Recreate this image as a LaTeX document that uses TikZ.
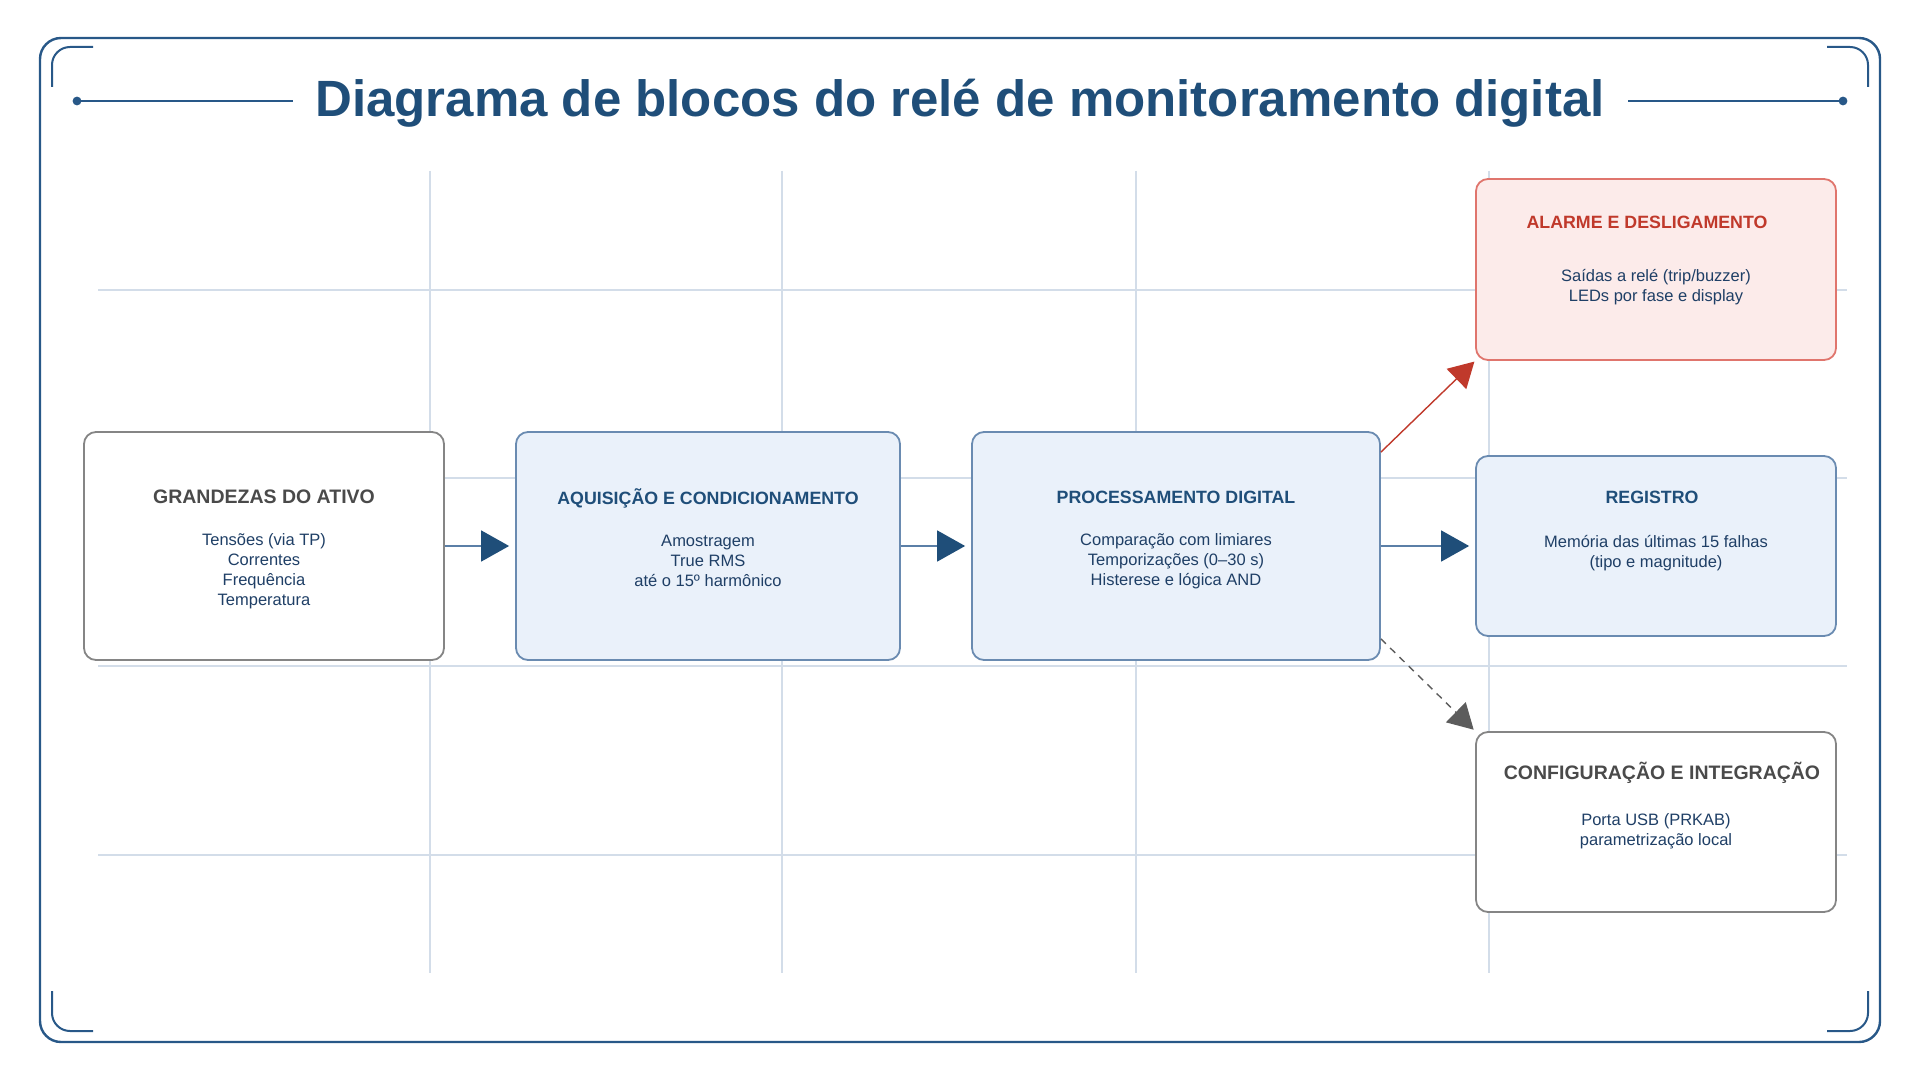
\documentclass[tikz,border=0pt]{standalone}
\usepackage{fontspec}
\setmainfont{Liberation Sans}
\usepackage{tikz}
\usetikzlibrary{arrows.meta}
\usetikzlibrary{positioning}

\definecolor{frameblue}{HTML}{285888}
\definecolor{titleblue}{HTML}{1F4E79}
\definecolor{gridline}{HTML}{D3DDE9}
\definecolor{bodyblue}{HTML}{1F3F66}
\definecolor{boxfill}{HTML}{EAF1FA}
\definecolor{boxedge}{HTML}{6A8BB1}
\definecolor{alarmfill}{HTML}{FCEBEA}
\definecolor{alarmedge}{HTML}{E0756D}
\definecolor{alarmred}{HTML}{C0392B}
\definecolor{plainedge}{HTML}{858585}
\definecolor{headgray}{HTML}{4A4A4A}
\definecolor{linkblue}{HTML}{5B7FA7}

\tikzset{
  plainblock/.style={draw=plainedge, fill=white, rounded corners=6pt, line width=0.9pt},
  blueblock/.style={draw=boxedge, fill=boxfill, rounded corners=6pt, line width=0.9pt},
  redblock/.style={draw=alarmedge, fill=alarmfill, rounded corners=6pt, line width=0.9pt},
  heading/.style={font=\fontsize{9.75pt}{12pt}\selectfont\bfseries, align=center},
  smallheading/.style={font=\fontsize{8.9pt}{11pt}\selectfont\bfseries, align=center},
  bodytext/.style={font=\fontsize{8.25pt}{10pt}\selectfont, text=bodyblue, align=center},
  linkarrow/.style={draw=linkblue, line width=0.8pt, shorten >=3pt,
    -{Triangle[length=14pt,width=15.5pt,color=titleblue]}},
  corner/.style={draw=frameblue, line width=1pt, rounded corners=9pt}
}

\begin{document}
\begin{tikzpicture}[x=0.5pt,y=-0.5pt]
    \fill[white] (0,0) rectangle (1920,1080);
    \useasboundingbox (0,0) rectangle (1920,1080);

    % frame
    \draw[frameblue, line width=1.2pt, rounded corners=10.5pt] (40,38) rectangle (1880,1042);
    \draw[corner] (52,87) -- (52,47) -- (93,47);
    \draw[corner] (1827,47) -- (1868,47) -- (1868,87);
    \draw[corner] (52,991) -- (52,1031) -- (93,1031);
    \draw[corner] (1827,1031) -- (1868,1031) -- (1868,991);

    \node[font=\fontsize{25.5pt}{30pt}\selectfont\bfseries, text=titleblue, anchor=base] (title) at (960,117)
        {Diagrama de blocos do relé de monitoramento digital};
    \draw[frameblue, line width=1pt] (77,101) -- (293,101);
    \draw[frameblue, line width=1pt] (1628,101) -- (1843,101);
    \fill[frameblue] (77,101) circle (2.2pt);
    \fill[frameblue] (1843,101) circle (2.2pt);

    % grid
    \foreach \x in {430,782,1136,1489}
        \draw[gridline, line width=0.6pt] (\x,171) -- (\x,973);
    \foreach \y in {290,478,666,855}
        \draw[gridline, line width=0.6pt] (98,\y) -- (1847,\y);

    % blocks
    \node[plainblock, minimum width=180pt, minimum height=114pt] (ativo) at (264,546) {};
    \node[heading, text=headgray] (ativo-t) at (264,497) {GRANDEZAS DO ATIVO};
    \node[bodytext] (ativo-b) at (264,571) {Tensões (via TP)\\Correntes\\Frequência\\Temperatura};

    \node[blueblock, minimum width=192pt, minimum height=114pt] (acq) at (708,546) {};
    \node[smallheading, text=titleblue] (acq-t) at (708,498) {AQUISIÇÃO E CONDICIONAMENTO};
    \node[bodytext] (acq-b) at (708,561) {Amostragem\\True RMS\\até o 15º harmônico};

    \node[blueblock, minimum width=204pt, minimum height=114pt] (proc) at (1176,546) {};
    \node[smallheading, text=titleblue] (proc-t) at (1176,497) {PROCESSAMENTO DIGITAL};
    \node[bodytext] (proc-b) at (1176,561) {Comparação com limiares\\Temporizações (0–30 s)\\Histerese e lógica AND};

    \node[redblock, minimum width=180pt, minimum height=90.5pt] (alarm) at (1656,269.5) {};
    \node[smallheading, text=alarmred] (alarm-t) at (1647,222) {ALARME E DESLIGAMENTO};
    \node[bodytext] (alarm-b) at (1656,287) {Saídas a relé (trip/buzzer)\\LEDs por fase e display};

    \node[blueblock, minimum width=180pt, minimum height=90pt] (reg) at (1656,546) {};
    \node[smallheading, text=titleblue] (reg-t) at (1652,497) {REGISTRO};
    \node[bodytext] (reg-b) at (1656,553) {Memória das últimas 15 falhas\\(tipo e magnitude)};

    \node[plainblock, minimum width=180pt, minimum height=90pt] (cfg) at (1656,822) {};
    \node[heading, text=headgray] (cfg-t) at (1662,773) {CONFIGURAÇÃO E INTEGRAÇÃO};
    \node[bodytext] (cfg-b) at (1656,831) {Porta USB (PRKAB)\\parametrização local};

    % links
    \draw[linkarrow] (ativo) -- (acq);
    \draw[linkarrow] (acq) -- (proc);
    \draw[linkarrow] (proc) -- (reg);
    \draw[alarmred, line width=0.7pt, shorten >=0.5pt, -{Triangle[length=12.5pt,width=14pt]}]
        ([yshift=-10.5pt]proc.north east) -- (alarm.south west);
    \draw[headgray!90, line width=0.7pt, dash pattern=on 3.5pt off 3pt, shorten >=1pt, -{Triangle[length=12.5pt,width=14pt]}]
        ([yshift=11pt]proc.south east) -- (cfg.north west);
\end{tikzpicture}
\end{document}
